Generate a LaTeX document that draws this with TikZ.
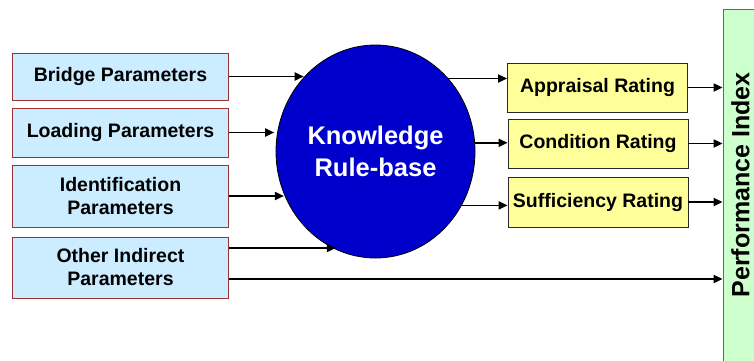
\documentclass[tikz,border=0pt]{standalone}
\usepackage{fontspec}
\setmainfont{Liberation Sans}
\usetikzlibrary{arrows.meta,shapes.geometric}
\definecolor{inblue}{RGB}{204,236,255}
\definecolor{inedge}{RGB}{153,51,51}
\definecolor{rateyellow}{RGB}{255,255,153}
\definecolor{rateedge}{RGB}{40,40,40}
\definecolor{perfgreen}{RGB}{204,255,204}
\definecolor{perfedge}{RGB}{153,80,80}
\definecolor{kbblue}{RGB}{0,0,204}
\tikzset{
  inbox/.style={draw=inedge, fill=inblue, line width=0.8pt, minimum width=216pt,
    inner sep=2pt, align=center, font=\bfseries\fontsize{19.5}{23}\selectfont},
  ratebox/.style={draw=rateedge, fill=rateyellow, line width=0.8pt, minimum width=180pt,
    minimum height=49pt, inner sep=2pt, font=\bfseries\fontsize{19.5}{23}\selectfont},
  kbnode/.style={ellipse, draw=black, fill=kbblue, line width=0.8pt, minimum width=199pt,
    minimum height=213pt, inner sep=0pt, align=center, text=white,
    font=\bfseries\fontsize{25.5}{32}\selectfont},
  perfbox/.style={draw=perfedge, fill=perfgreen, line width=0.8pt, minimum width=40pt,
    minimum height=352pt, inner sep=0pt},
  flow/.style={draw=black, line width=1.8pt, -{Triangle[length=9pt,width=8pt]}}
}
\begin{document}
\begin{tikzpicture}[x=1pt,y=1pt]
\useasboundingbox[fill=white] (0,0) rectangle (754,-360);

% parameter inputs
\node[inbox, minimum height=47pt] (bridge) at (120.5,-76.5) {Bridge Parameters};
\node[inbox, minimum height=49pt] (loading) at (120.5,-132.5) {Loading Parameters};
\node[inbox, minimum height=62pt] (ident) at (120.5,-196) {Identification\\Parameters};
\node[inbox, minimum height=61pt] (other) at (120.5,-267.5) {Other Indirect\\Parameters};

% rule base
\node[kbnode] (kb) at (375.5,-151.5) {Knowledge\\Rule-base};

% ratings
\node[ratebox] (appr) at (597.5,-87.5) {Appraisal Rating};
\node[ratebox] (cond) at (598,-143.5) {Condition Rating};
\node[ratebox, minimum height=50pt] (suff) at (598,-202) {Sufficiency Rating};

% output index
\node[perfbox] (perf) at (743,-185) {};
\node[rotate=90, inner sep=0pt, font=\bfseries\fontsize{25}{30}\selectfont] (perftxt)
  at (740.5,-185) {Performance Index};

% inputs into the rule base
\draw[flow] (bridge.east) -- (bridge.east -| kb.134);
\draw[flow, shorten >=3pt] (loading.east) -- (loading.east -| kb.169);
\draw[flow] (ident.east) -- (ident.east -| kb.205);
\draw[flow] ([yshift=19.5pt]other.east) -- ([yshift=19.5pt]other.east -| kb.248);
\draw[flow] ([yshift=-11.5pt]other.east) -- ([yshift=-11.5pt]other.east -| perf.west);

% rule base to ratings
\draw[flow] (kb.45) -- (kb.45 -| appr.west);
\draw[flow] (kb.5.5) -- (kb.5.5 -| cond.west);
\draw[flow] (kb.-32.5) -- (kb.-32.5 -| suff.west);

% ratings to index
\draw[flow] (appr.east) -- (appr.east -| perf.west);
\draw[flow] (cond.east) -- (cond.east -| perf.west);
\draw[flow] (suff.east) -- (suff.east -| perf.west);
\end{tikzpicture}
\end{document}
